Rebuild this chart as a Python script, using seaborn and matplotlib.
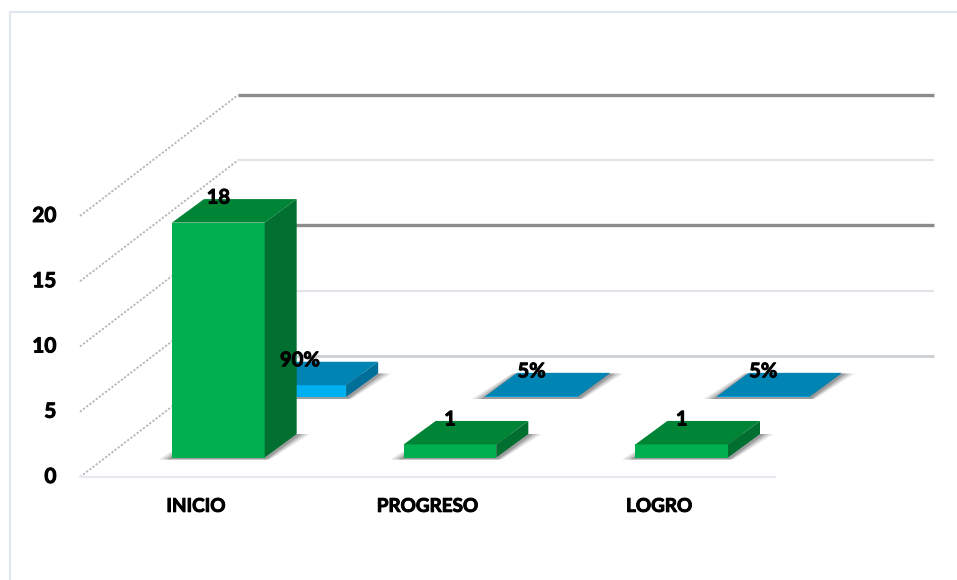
import matplotlib
matplotlib.use("Agg")
import matplotlib.pyplot as plt
import matplotlib.patheffects as pe
from matplotlib.lines import Line2D
from matplotlib.patches import Polygon
from matplotlib.transforms import ScaledTranslation
import seaborn as sns

categories = ["INICIO", "PROGRESO", "LOGRO"]
counts = [18, 1, 1]
shares = [0.90, 0.05, 0.05]
share_labels = ["90%", "5%", "5%"]
y_ticks = [0, 5, 10, 15, 20]

sns.set_theme(style="white")
plt.rcParams["font.family"] = ["Lato", "DejaVu Sans"]

W, H = 957, 580
PX_X = 695 / 3          # pixels per category
PX_Y = 13.05            # pixels per unit
FLOOR_X, FLOOR_Y = 80, 477
fig = plt.figure(figsize=(W / 100, H / 100), dpi=100, facecolor="white")
heavy = [pe.withStroke(linewidth=0.7, foreground="black")]

for line in (Line2D([10 / W, 1], [1 - 12 / H] * 2), Line2D([10 / W] * 2, [0, 1 - 12 / H])):
    line.set(color="#e3e7ef", lw=1.6, transform=fig.transFigure)
    fig.add_artist(line)


def plane(dx, dy):
    ax = fig.add_axes([(FLOOR_X + dx) / W, (H - FLOOR_Y + dy) / H, 3 * PX_X / W, 20 * PX_Y / H])
    ax.patch.set_visible(False)
    for s in ax.spines.values():
        s.set_visible(False)
    ax.set_xlim(-0.5, 2.5)
    ax.set_ylim(0, 20)
    return ax


# Wall and floor plane: ticks, dotted side wall, back wall lines
base = plane(0, 0)
base.set_xticks(range(len(categories)), categories, fontweight="bold", fontsize=13.6, color="black")
base.set_yticks(y_ticks, [str(v) for v in y_ticks], fontweight="bold", fontsize=15, color="black")
base.tick_params(axis="both", length=0)
base.tick_params(axis="x", pad=15)
base.tick_params(axis="y", pad=17)
for lab in base.get_yticklabels():
    lab.set_transform(lab.get_transform() + ScaledTranslation(0, 2 / 100, fig.dpi_scale_trans))
for lab in base.get_xticklabels() + base.get_yticklabels():
    lab.set_path_effects(heavy)
wall_dx = 158 / PX_X
wall_dy = 121 / PX_Y
wall_len = 696 / PX_X
for v in y_ticks:
    base.plot([-0.5, -0.5 + wall_dx], [v, v + wall_dy], color="#b5b5b5", lw=1.3,
              ls=(0, (1.2, 1.0)), clip_on=False, zorder=1)
    strong = v in (10, 20)
    base.plot([-0.5 + wall_dx, -0.5 + wall_dx + wall_len], [v + wall_dy] * 2,
              color="#8c8c8c" if strong else ("#ccd0d4" if v == 0 else "#e1e5ea"),
              lw=2.4 if strong else (2.0 if v == 0 else 1.5), clip_on=False, zorder=1, solid_capstyle="butt")
base.plot([-0.5, 2.5], [0, 0], color="#e6e9ee", lw=1.6, clip_on=False, zorder=1)


def bars(dx, dy, values, front, top, side):
    ax = plane(dx, dy)
    sns.barplot(x=categories, y=values, color=front, saturation=1, width=0.4, ax=ax, zorder=3,
                edgecolor="none", linewidth=0)
    ax.set_xlim(-0.5, 2.5)
    ax.set_ylim(0, 20)
    ax.set_xticks([])
    ax.set_yticks([])
    ax.set_xlabel("")
    ax.set_ylabel("")
    ddx = 32 / PX_X
    ddy = 23.5 / PX_Y
    tops = []
    for patch in list(ax.patches):
        x0, w, h = patch.get_x(), patch.get_width(), patch.get_height()
        x1 = x0 + w
        tops.append((x0 + w / 2, h))
        # soft floor shadow
        for grow, alpha in ((13, 0.14), (9, 0.20), (5, 0.30)):
            g = grow / PX_X
            low = -2.0 / PX_Y
            ax.add_patch(Polygon([(x0 - g, low), (x1 + g * 0.4, low), (x1 + ddx + g, ddy), (x0 + ddx - g * 0.4, ddy)],
                                 closed=True, fc="#444444", ec="none", alpha=alpha, zorder=2, clip_on=False))
        ax.add_patch(Polygon([(x0, h), (x1, h), (x1 + ddx, h + ddy), (x0 + ddx, h + ddy)],
                             closed=True, fc=top, ec="none", zorder=4, clip_on=False))
        ax.add_patch(Polygon([(x1, 0), (x1 + ddx, ddy), (x1 + ddx, h + ddy), (x1, h)],
                             closed=True, fc=side, ec="none", zorder=4, clip_on=False))
    return tops


def labels(dx, dy, tops, texts):
    ax = plane(dx, dy)
    ax.set_xticks([])
    ax.set_yticks([])
    for (xc, h), text in zip(tops, texts):
        ax.annotate(text, (xc, h), xytext=(0, 25 * 0.72), textcoords="offset points",
                    ha="center", va="center", fontweight="bold", fontsize=14.5, color="black",
                    annotation_clip=False, path_effects=heavy)


blue_tops = bars(104, 80, shares, "#00b0f0", "#0084b4", "#006f99")
green_tops = bars(22.5, 19.5, counts, "#00b050", "#008537", "#006f2f")
labels(104, 80, blue_tops, share_labels)
labels(22.5, 19.5, green_tops, [str(v) for v in counts])

fig.savefig("out.png", dpi=100)
